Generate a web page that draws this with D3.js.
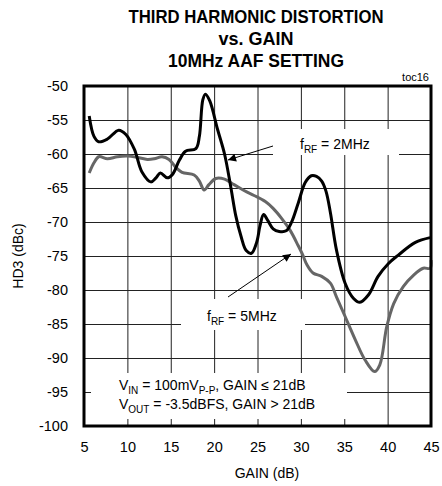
<!DOCTYPE html>
<html>
<head>
<meta charset="utf-8">
<script src="https://cdn.jsdelivr.net/npm/d3@7"></script>
<style>
  body { margin: 0; background: #fff; }
  text { font-family: "Liberation Sans", Arial, sans-serif; fill: #000; }
</style>
</head>
<body>
<script>
// fRF = 2MHz (black curve)
var gain2 = [5.6, 6.15, 6.7, 7.7, 9.0, 9.8, 10.8, 11.7, 12.7, 13.3, 13.8, 14.6, 15.2, 16.0, 16.7, 17.9, 18.3, 18.7, 19.0, 19.5, 20.4,
             21.2, 21.9, 22.5, 23.1, 23.7, 24.3, 24.9, 25.3, 25.7, 26.2, 26.8, 27.5, 28.3, 28.9, 29.7, 30.5, 31.2, 31.8, 32.4, 32.9,
             33.4, 34.1, 35.1, 36.05, 36.8, 37.8, 38.9, 40.1, 41.2, 43.2, 44.9];
var hd3_2 = [-54.4, -57.4, -58.2, -57.8, -56.5, -57.1, -59.3, -62.7, -64.1, -63.5, -62.8, -63.5, -63.0, -60.9, -59.6, -59.2, -57.4, -52.0, -51.2, -52.2, -56.4,
             -60.0, -64.7, -69.1, -72.1, -74.2, -74.6, -73.0, -70.5, -68.9, -69.8, -71.0, -71.4, -71.3, -70.1, -67.2, -64.2, -63.2, -63.3, -64.0, -65.5,
             -68.6, -74.1, -79.0, -81.2, -81.8, -80.7, -78.0, -76.1, -74.9, -73.0, -72.3];

// fRF = 5MHz (grey curve)
var gain5 = [5.6, 6.15, 6.7, 7.7, 8.85, 10.0, 11.15, 12.3, 13.1, 14.0, 14.8, 15.6, 16.3, 17.7, 18.3, 18.85, 19.4, 20.2, 21.2, 22.3, 23.5,
             24.6, 25.9, 26.8, 27.8, 28.75, 29.7, 30.2, 30.7, 31.4, 32.4, 33.4, 34.1, 35.1, 36.3, 37.4, 38.5, 39.1, 39.9, 40.7, 41.8,
             43.0, 44.1, 44.9, 45.0];
var hd3_5 = [-62.8, -61.3, -60.4, -60.7, -60.4, -60.3, -60.5, -60.8, -60.7, -60.4, -60.8, -62.0, -62.7, -63.1, -64.0, -65.3, -64.5, -63.6, -63.7, -64.5, -65.4,
             -66.1, -67.0, -68.0, -69.5, -71.2, -73.5, -74.8, -76.3, -77.5, -78.0, -79.0, -81.0, -83.9, -87.4, -90.3, -92.0, -91.0, -85.4, -82.0, -79.5,
             -77.8, -76.8, -76.8, -75.6];

var xTicks = [5, 10, 15, 20, 25, 30, 35, 40, 45];
var yTicks = [-50, -55, -60, -65, -70, -75, -80, -85, -90, -95, -100];

var w = 442;
var h = 486;

var x = d3.scaleLinear().domain([5, 45]).range([84, 431]);
var y = d3.scaleLinear().domain([-100, -50]).range([426, 86]);

var svg = d3.select("body")
        .append("svg")
        .attr("width", w)
        .attr("height", h);

// title
var title = ["THIRD HARMONIC DISTORTION", "vs. GAIN", "10MHz AAF SETTING"];
svg.selectAll("text.title")
        .data(title)
        .enter()
        .append("text")
        .attr("class", "title")
        .attr("x", 256)
        .attr("y", function (d, i) { return 23 + i * 22; })
        .attr("text-anchor", "middle")
        .style("font-size", "17.5px")
        .style("font-weight", "bold")
        .attr("textLength", function (d, i) { return [255, 75, 176][i]; })
        .attr("lengthAdjust", "spacingAndGlyphs")
        .text(function (d) { return d; });

svg.append("text")
        .attr("x", 429)
        .attr("y", 81)
        .attr("text-anchor", "end")
        .style("font-size", "11px")
        .text("toc16");

// grid
svg.append("g")
        .attr("transform", "translate(0,426)")
        .call(d3.axisBottom(x).tickValues(xTicks).tickSize(-340).tickFormat(""))
        .call(function (g) { g.select(".domain").remove(); })
        .selectAll("line").attr("stroke", "#222");

svg.append("g")
        .attr("transform", "translate(84,0)")
        .call(d3.axisLeft(y).tickValues(yTicks).tickSize(-347).tickFormat(""))
        .call(function (g) { g.select(".domain").remove(); })
        .selectAll("line").attr("stroke", "#222");

// white boxes behind annotations
svg.append("rect").attr("x", 273).attr("y", 129).attr("width", 126).attr("height", 26).attr("fill", "#fff");
svg.append("rect").attr("x", 181).attr("y", 299).attr("width", 124).attr("height", 31).attr("fill", "#fff");
svg.append("rect").attr("x", 91).attr("y", 373).attr("width", 256).attr("height", 46).attr("fill", "#fff");

// tick labels
var plain = function (d) { return String(d); };

svg.append("g")
        .attr("transform", "translate(84,0)")
        .call(d3.axisLeft(y).tickValues(yTicks).tickSize(0).tickPadding(16).tickFormat(plain))
        .call(function (g) { g.select(".domain").remove(); })
        .selectAll("text")
        .style("font-size", "14.5px")
        .style("font-family", "'Liberation Sans', Arial, sans-serif");

svg.append("g")
        .attr("transform", "translate(0,426)")
        .call(d3.axisBottom(x).tickValues(xTicks).tickSize(0).tickPadding(16).tickFormat(plain))
        .call(function (g) { g.select(".domain").remove(); })
        .selectAll("text")
        .style("font-size", "14.5px")
        .style("font-family", "'Liberation Sans', Arial, sans-serif");

svg.append("text")
        .attr("x", 267)
        .attr("y", 478)
        .attr("text-anchor", "middle")
        .style("font-size", "14px")
        .text("GAIN (dB)");

svg.append("text")
        .attr("transform", "translate(23,256) rotate(-90)")
        .attr("text-anchor", "middle")
        .style("font-size", "14px")
        .text("HD3 (dBc)");

// curves
var line = d3.line()
        .x(function (d) { return x(d[0]); })
        .y(function (d) { return y(d[1]); })
        .curve(d3.curveCatmullRom.alpha(0.5));

svg.append("path")
        .attr("d", line(d3.zip(gain5, hd3_5)))
        .attr("fill", "none")
        .attr("stroke", "#666")
        .attr("stroke-width", 3);

svg.append("path")
        .attr("d", line(d3.zip(gain2, hd3_2)))
        .attr("fill", "none")
        .attr("stroke", "#000")
        .attr("stroke-width", 3);

// arrows
svg.append("defs").append("marker")
        .attr("id", "head")
        .attr("viewBox", "0 0 10 10")
        .attr("refX", 10).attr("refY", 5)
        .attr("markerWidth", 14).attr("markerHeight", 8)
        .attr("markerUnits", "userSpaceOnUse")
        .attr("orient", "auto")
        .append("path")
        .attr("d", "M0,0L10,5L0,10Z")
        .attr("fill", "#000");

svg.append("line")
        .attr("x1", 273).attr("y1", 146).attr("x2", 228).attr("y2", 160)
        .attr("stroke", "#000").attr("stroke-width", 1)
        .attr("marker-end", "url(#head)");

svg.append("line")
        .attr("x1", 228).attr("y1", 297).attr("x2", 291).attr("y2", 254)
        .attr("stroke", "#000").attr("stroke-width", 1)
        .attr("marker-end", "url(#head)");

// labels
function label(px, py, parts) {
    var t = svg.append("text")
            .attr("x", px)
            .attr("y", py)
            .style("font-size", "14px");
    parts.forEach(function (p) {
        var s = t.append("tspan").text(p[0]);
        if (p[1]) {
            s.style("font-size", "10px").attr("dy", 4);
        } else if (p[2]) {
            s.attr("dy", -4);
        }
    });
}

label(300, 149, [["f"], ["RF", 1], [" = 2MHz", 0, 1]]);
label(207, 321, [["f"], ["RF", 1], [" = 5MHz", 0, 1]]);
label(119, 390, [["V"], ["IN", 1], [" = 100mV", 0, 1], ["P-P", 1], [", GAIN \u2264 21dB", 0, 1]]);
label(119, 409, [["V"], ["OUT", 1], [" = -3.5dBFS, GAIN > 21dB", 0, 1]]);

// frame
svg.append("rect")
        .attr("x", 84).attr("y", 86)
        .attr("width", 347).attr("height", 340)
        .attr("fill", "none")
        .attr("stroke", "#000")
        .attr("stroke-width", 3);
</script>
</body>
</html>
